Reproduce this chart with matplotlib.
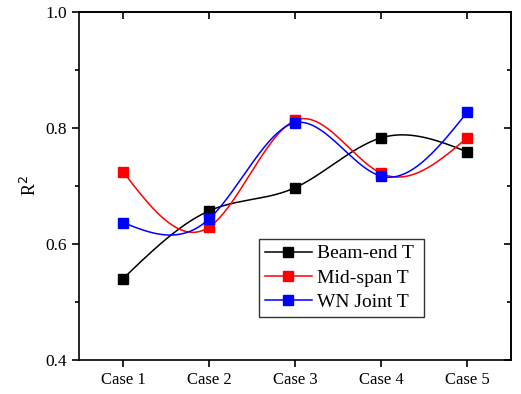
# R^2 comparison of temperature cases, smooth lines through points

import matplotlib.pyplot as plt
import numpy as np
from matplotlib.ticker import MultipleLocator, FormatStrFormatter, NullFormatter

plt.rcParams['font.family'] = ['Liberation Serif', 'DejaVu Serif']

cases = ['Case 1', 'Case 2', 'Case 3', 'Case 4', 'Case 5']
beam_end = [0.540, 0.657, 0.697, 0.783, 0.759]
mid_span = [0.725, 0.629, 0.813, 0.722, 0.783]
wn_joint = [0.637, 0.643, 0.809, 0.717, 0.827]

def natural_spline(x, y, xs):
    # natural cubic spline, only used to draw the smooth connecting line
    x = np.asarray(x, float)
    y = np.asarray(y, float)
    n = len(x)
    h = np.diff(x)
    A = np.zeros((n, n))
    b = np.zeros(n)
    A[0, 0] = 1
    A[-1, -1] = 1
    for i in range(1, n - 1):
        A[i, i - 1] = h[i - 1]
        A[i, i] = 2 * (h[i - 1] + h[i])
        A[i, i + 1] = h[i]
        b[i] = 3 * ((y[i + 1] - y[i]) / h[i] - (y[i] - y[i - 1]) / h[i - 1])
    c = np.linalg.solve(A, b)
    out = np.empty_like(xs)
    for j, t in enumerate(xs):
        i = min(max(np.searchsorted(x, t) - 1, 0), n - 2)
        dx = t - x[i]
        bb = (y[i + 1] - y[i]) / h[i] - h[i] * (2 * c[i] + c[i + 1]) / 3
        d = (c[i + 1] - c[i]) / (3 * h[i])
        out[j] = y[i] + bb * dx + c[i] * dx ** 2 + d * dx ** 3
    return out

x = np.arange(1, len(cases) + 1)
xs = np.linspace(1, len(cases), 300)

fig = plt.figure(figsize=(5.21, 3.94), dpi=100)
ax = fig.add_axes([79 / 521, 34 / 394, 432 / 521, 348 / 394])

series = [(beam_end, 'black', 'Beam-end T'),
          (mid_span, 'red', 'Mid-span T'),
          (wn_joint, 'blue', 'WN Joint T')]
for vals, col, lab in series:
    ax.plot(xs, natural_spline(x, vals, xs), color=col, lw=1.1)
    ax.plot(x, vals, ls='none', marker='s', ms=7, color=col)
    ax.plot([], [], color=col, lw=1.1, marker='s', ms=7, label=lab)

ax.set_xlim(0.49, 5.51)
ax.set_ylim(0.4, 1.0)
ax.set_xticks(x)
ax.set_xticklabels(cases, fontsize=12)
ax.yaxis.set_major_locator(MultipleLocator(0.2))
ax.yaxis.set_minor_locator(MultipleLocator(0.1))
ax.yaxis.set_major_formatter(FormatStrFormatter('%.1f'))
ax.tick_params(axis='y', labelsize=12.5)
ax.tick_params(axis='both', which='major', direction='out', length=5, width=1.2)
ax.tick_params(axis='y', which='minor', direction='out', length=3, width=1.2)
for s in ax.spines.values():
    s.set_linewidth(1.2)
ax.set_ylabel('R$^2$', fontsize=13)

# inward ticks on the top and right edges
top = ax.secondary_xaxis('top')
top.set_xticks(x)
top.xaxis.set_major_formatter(NullFormatter())
top.tick_params(direction='in', length=5, width=1.2)
right = ax.secondary_yaxis('right')
right.yaxis.set_major_locator(MultipleLocator(0.2))
right.yaxis.set_minor_locator(MultipleLocator(0.1))
right.yaxis.set_major_formatter(NullFormatter())
right.tick_params(which='major', direction='in', length=5, width=1.2)
right.tick_params(which='minor', direction='in', length=3, width=1.2)
top.spines['top'].set_linewidth(1.2)
right.spines['right'].set_linewidth(1.2)

leg = ax.legend(loc='upper left', bbox_to_anchor=(180 / 432, 121 / 348, 165 / 432, 0),
                mode='expand', fontsize=14, frameon=True, fancybox=False,
                handlelength=2.4, handletextpad=0.3, borderpad=0.3, labelspacing=0.35,
                borderaxespad=0, handleheight=0.7)
leg.get_frame().set_edgecolor('black')
leg.get_frame().set_linewidth(1.0)

plt.savefig('out.png', dpi=100)
